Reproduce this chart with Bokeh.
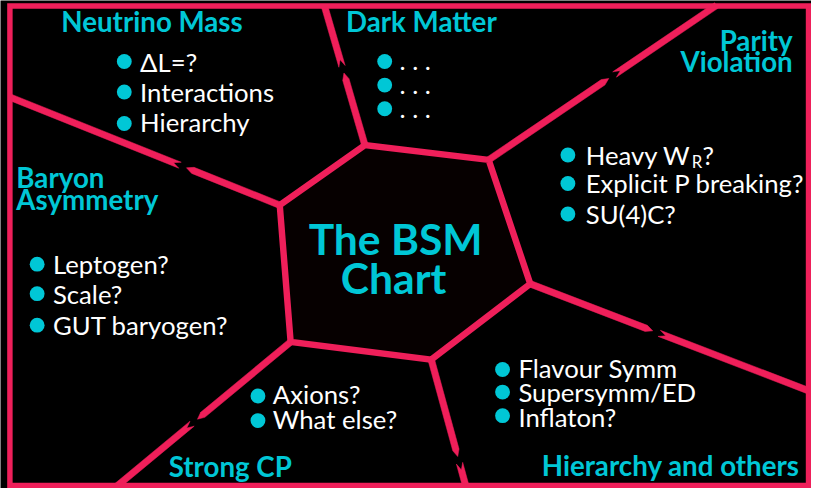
from bokeh.plotting import figure
from bokeh.models import Range1d
from bokeh.core.properties import value
from bokeh.embed import file_html
from bokeh.resources import INLINE

PINK = "#EF1F5A"
CYAN = "#00C7D6"
FONT = "Lato"

W, H = 819, 496          # reference extent
FW, FH = 811, 488        # figure size (fits the window with its 8px margin)
S = FW / W               # screen px per unit
BASE = 0.35              # alphabetic-baseline correction (in em)

# ---- diagram structure ----
hex_x = [282, 368, 493, 535, 435, 293]
hex_y = [208, 147, 162, 288, 365, 347]
spoke_from = [0, 1, 2, 3, 4, 5]
spoke_end_x = [9, 327, 723, 817, 470, 117]
spoke_end_y = [98, 5, 5, 397, 494, 494]
spoke_gap_t = [0.357, 0.54, 0.54, 0.45, 0.79, 0.55]
gap_len = 7
tip_len = 7
half_w = 3.3

border_x = [9.5, 816, 816, 9.5]
border_y = [5.5, 5.5, 493, 493]

# ---- texts ----
heads_c_text = ["Neutrino Mass", "Dark Matter", "Strong CP"]
heads_c_x = [153, 425, 232]
heads_c_y = [31, 31, 483]

heads_r_text = ["Parity", "Violation", "Hierarchy and others"]
heads_r_x = [800, 800, 807]
heads_r_y = [50, 72, 482]

heads_l_text = ["Baryon", "Asymmetry"]
heads_l_x = [16, 16]
heads_l_y = [190, 212]

center_text = ["The BSM", "Chart"]
center_x = [399, 397]
center_y = [257, 297]

bullet_text = ["\u0394L=?", "Interactions", "Hierarchy",
               ". . .", ". . .", ". . .",
               "Heavy W", "Explicit P breaking?", "SU(4)C?",
               "Leptogen?", "Scale?", "GUT baryogen?",
               "Axions?", "What else?",
               "Flavour Symm", "Supersymm/ED", "Inflaton?"]
bullet_tx = [141, 141, 141,
             403, 403, 403,
             591, 591, 591,
             53, 53, 53,
             275, 275,
             523, 523, 523]
bullet_ty = [72, 102, 133,
             70, 94, 118,
             166, 195, 226,
             277, 307, 339,
             409, 434,
             383, 407, 432]
bullet_cx = [125, 125, 125,
             388, 388, 388,
             573, 573, 573,
             37, 37, 37,
             260, 260,
             507, 507, 507]
bullet_cy = [62, 93, 125,
             62, 86, 110,
             157, 186, 217,
             268, 298, 330,
             402, 427,
             375, 398, 422]

sub_text = ["R"]
sub_x = [698]
sub_y = [170]
after_text = ["?"]
after_x = [709]
after_y = [166]

HEAD_PX = 28.0
BODY_PX = 26.0
CENTER_PX = 43.0
SUB_PX = 17.0


def fs(px):
    return f"{px * S:.1f}px"


def lift(ys, px):
    return [y - BASE * px for y in ys]


p = figure(width=FW, height=FH,
           x_range=Range1d(0, W), y_range=Range1d(H, 0),
           output_backend="svg", toolbar_location=None,
           x_axis_location=None, y_axis_location=None,
           min_border=0)
p.grid.visible = False
p.outline_line_color = None
p.background_fill_color = "black"
p.border_fill_color = "black"

# spokes drawn as bands with a torn break
pxs, pys = [], []
for i, k in enumerate(spoke_from):
    x0, y0 = hex_x[k], hex_y[k]
    x1, y1 = spoke_end_x[i], spoke_end_y[i]
    L = ((x1 - x0) ** 2 + (y1 - y0) ** 2) ** 0.5
    ux, uy = (x1 - x0) / L, (y1 - y0) / L
    nx, ny = -uy * half_w, ux * half_w
    d = spoke_gap_t[i] * L
    da, db = d - gap_len / 2, d + gap_len / 2

    def pt(s, side=0.0):
        return (x0 + ux * s + nx * side, y0 + uy * s + ny * side)

    piece1 = [pt(0, 1), pt(da - tip_len, 1), pt(da, 0), pt(da - tip_len, -1), pt(0, -1)]
    piece2 = [pt(db, 1), pt(L, 1), pt(L, -1), pt(db, -1), pt(db + tip_len, 0)]
    for poly in (piece1, piece2):
        pxs.append([q[0] for q in poly])
        pys.append([q[1] for q in poly])
p.patches(pxs, pys, fill_color=PINK, line_color=PINK, line_width=0.5)

# border
p.patch(border_x, border_y, fill_color=None, line_color=PINK, line_width=5.5 * S,
        line_join="miter")

# central hexagon
p.patch(hex_x, hex_y, fill_color="#060000", line_color=PINK, line_width=6.5 * S,
        line_join="miter")

# headings
common = dict(text_font=value(FONT), text_baseline="alphabetic")
p.text(heads_c_x, lift(heads_c_y, HEAD_PX), text=heads_c_text, text_font_style="bold",
       text_font_size=fs(HEAD_PX), text_color=CYAN, text_align="center", **common)
p.text(heads_r_x, lift(heads_r_y, HEAD_PX), text=heads_r_text, text_font_style="bold",
       text_font_size=fs(HEAD_PX), text_color=CYAN, text_align="right", **common)
p.text(heads_l_x, lift(heads_l_y, HEAD_PX), text=heads_l_text, text_font_style="bold",
       text_font_size=fs(HEAD_PX), text_color=CYAN, text_align="left", **common)
p.text(center_x, lift(center_y, CENTER_PX), text=center_text, text_font_style="bold",
       text_font_size=fs(CENTER_PX), text_color=CYAN, text_align="center", **common)

# bullets
p.scatter(bullet_cx, bullet_cy, size=15 * S, marker="circle", fill_color=CYAN, line_color=None)
p.text(bullet_tx, lift(bullet_ty, BODY_PX), text=bullet_text,
       text_font_size=fs(BODY_PX), text_color="white", text_align="left", **common)
p.text(sub_x, lift(sub_y, SUB_PX), text=sub_text,
       text_font_size=fs(SUB_PX), text_color="white", text_align="left", **common)
p.text(after_x, lift(after_y, BODY_PX), text=after_text,
       text_font_size=fs(BODY_PX), text_color="white", text_align="left", **common)

open("out.html", "w").write(file_html(p, INLINE))
